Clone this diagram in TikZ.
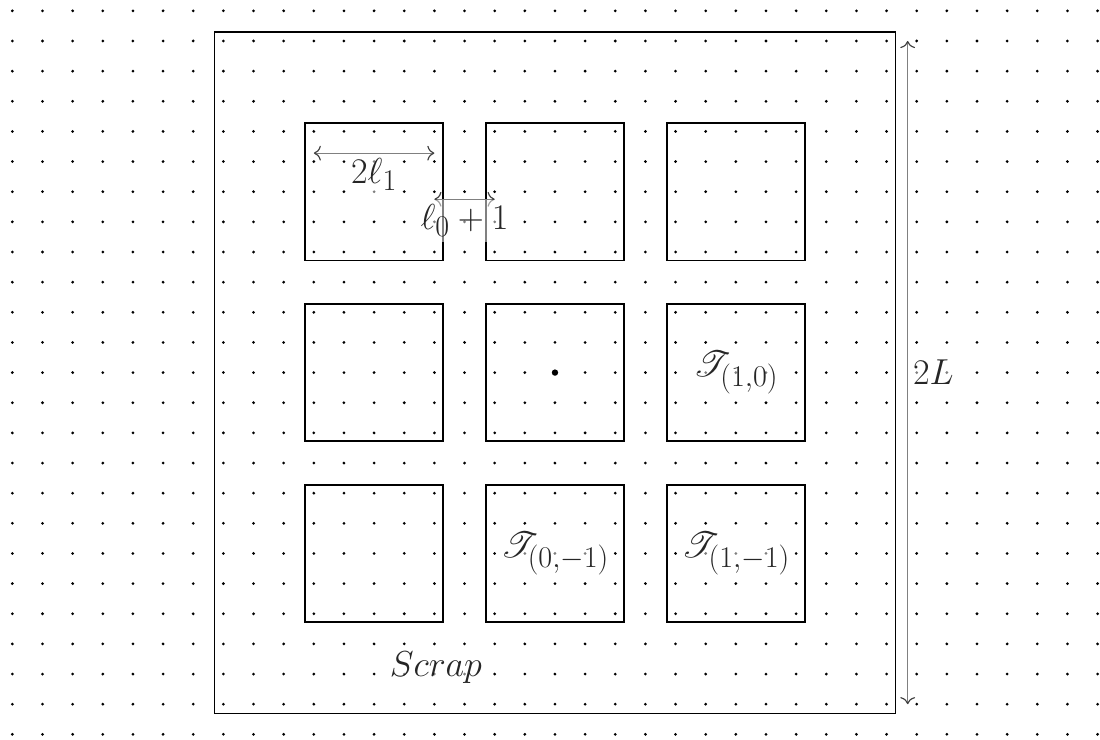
\documentclass[tikz,border=0pt]{standalone}
\usepackage{mathrsfs}
\usetikzlibrary{arrows.meta}
\begin{document}
\begin{tikzpicture}[x=0.73cm,y=0.73cm,
  tile/.style={draw=black, line width=1.3pt, minimum size=3.3288cm, inner sep=0pt},
  frame/.style={draw=black, line width=0.9pt},
  dim/.style={draw=black!50, line width=0.8pt, {To[color=black!75,scale=1.45]}-{To[color=black!75,scale=1.45]}},
  lbl/.style={fill=white, fill opacity=0.5, text opacity=0.85, font=\Huge, inner sep=0.3333em}]
\useasboundingbox (-18.41,-12.18) rectangle (18.08,12.36);
% dot lattice
\foreach \x in {-18,...,18}
  \foreach \y in {-12,...,12}
    \fill (\x,\y) circle (1.05pt);
\fill (0,0) circle (2.2pt);
% outer box
\draw[frame] (-11.3,-11.3) rectangle (11.3,11.3);
% tiles
\foreach \i/\n in {-1/m1,0/0,1/1}
  \foreach \j/\m in {-1/m1,0/0,1/1}
    \node[tile] (t\n\m) at (6*\i,6*\j) {};
% dimension arrows
\coordinate (a1) at (-8,7.28);
\coordinate (a2) at (-4,7.28);
\draw[dim] (a1) -- node[lbl,below] (la) {$2\ell_1$} (a2);
\coordinate (b1) at (-4,5.75);
\coordinate (b2) at (-2,5.75);
\draw[dim] (b1) -- node[lbl,below] (lb) {$\ell_0+1$} (b2);
\coordinate (c1) at (11.7,-11);
\coordinate (c2) at (11.7,11);
\draw[dim] (c1) -- node[lbl,right] (lc) {$2L$} (c2);
% labels
\node[lbl] (scrap) at (-3.95,-9.8) {$Scrap$};
\node[lbl] (T10) at (t10.center) {$\mathscr{T}_{(1,0)}$};
\node[lbl] (T0m1) at (t0m1.center) {$\mathscr{T}_{(0,-1)}$};
\node[lbl] (T1m1) at (t1m1.center) {$\mathscr{T}_{(1,-1)}$};
\end{tikzpicture}
\end{document}
